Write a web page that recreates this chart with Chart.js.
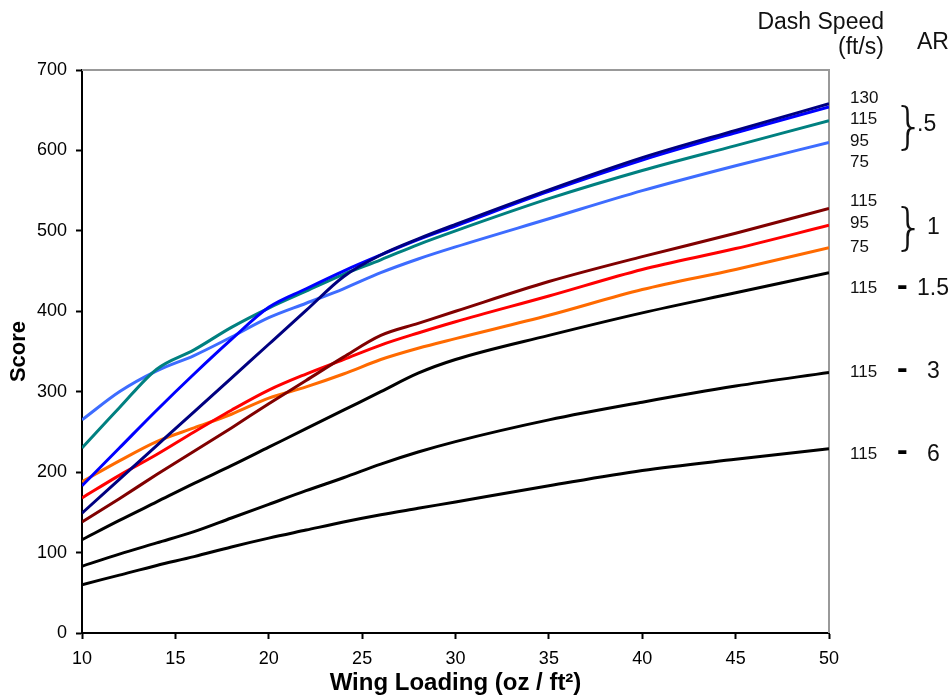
<!DOCTYPE html>
<html>
<head>
<meta charset="utf-8">
<script src="https://cdn.jsdelivr.net/npm/chart.js@4.4.1/dist/chart.umd.min.js"></script>
<style>
  html, body { margin: 0; padding: 0; background: #fff; }
  #wrap { width: 952px; height: 700px; }
</style>
</head>
<body>
<div id="wrap"><canvas id="scoreChart" width="952" height="700"></canvas></div>
<script>
// wing loading (oz/ft^2) sample points
const wingLoading = [10, 12, 14, 16, 18, 20, 22, 24, 26, 28, 30, 35, 40, 45, 50];

// AR .5
const ar05_130 = [149, 191, 233, 275, 317, 359, 401, 443, 470, 490, 508, 551, 591, 625, 658];
const ar05_115 = [183, 230, 277, 322, 365, 405, 428, 450, 470, 489, 506, 549, 588, 622, 654];
const ar05_95  = [230, 280, 328, 352, 380, 404, 425, 446, 464, 483, 500, 540, 575, 606, 637];
const ar05_75  = [265, 300, 326, 345, 368, 392, 410, 428, 448, 465, 480, 515, 550, 581, 610];
// AR 1
const ar1_115 = [138, 167, 197, 226, 255, 285, 314, 343, 370, 385, 400, 437, 468, 497, 528];
const ar1_95  = [168, 196, 222, 250, 277, 302, 322, 340, 358, 373, 387, 419, 452, 478, 507];
const ar1_75  = [188, 214, 238, 255, 272, 292, 306, 322, 340, 354, 366, 395, 427, 452, 479];
// AR 1.5, 3, 6 @ 115 ft/s
const ar15_115 = [116, 140, 163, 186, 208, 231, 254, 277, 300, 323, 340, 370, 398, 423, 448];
const ar3_115  = [83, 98, 112, 126, 143, 160, 177, 193, 210, 225, 238, 265, 287, 307, 324];
const ar6_115  = [60, 72, 84, 95, 107, 118, 128, 138, 147, 155, 163, 183, 202, 216, 229];

const xTicks = [10, 15, 20, 25, 30, 35, 40, 45, 50];
const yTicks = [0, 100, 200, 300, 400, 500, 600, 700];

function series(label, values, color) {
  return {
    label: label,
    data: wingLoading.map((x, i) => ({ x: x, y: values[i] })),
    borderColor: color,
    backgroundColor: color,
    borderWidth: 3,
    pointRadius: 0,
    fill: false,
    cubicInterpolationMode: 'monotone'
  };
}

// gray frame + labels on the right side of the plot
const sideLabels = {
  id: 'sideLabels',
  beforeDatasetsDraw(chart) {
    const { ctx, chartArea } = chart;
    ctx.save();
    ctx.strokeStyle = '#999';
    ctx.lineWidth = 2;
    ctx.beginPath();
    ctx.moveTo(chartArea.left, chartArea.top);
    ctx.lineTo(chartArea.right, chartArea.top);
    ctx.lineTo(chartArea.right, chartArea.bottom);
    ctx.stroke();
    ctx.restore();
  },
  afterDraw(chart) {
    const ctx = chart.ctx;
    ctx.save();
    ctx.fillStyle = '#111';
    ctx.textBaseline = 'alphabetic';
    ctx.font = '23px "Liberation Sans", Arial, sans-serif';
    ctx.textAlign = 'right';
    ctx.fillText('Dash Speed', 884, 29);
    ctx.fillText('(ft/s)', 884, 54);
    ctx.textAlign = 'left';
    ctx.fillText('AR', 917, 49);

    ctx.font = '17px "Liberation Sans", Arial, sans-serif';
    const nums = [['130', 103], ['115', 124], ['95', 146], ['75', 167],
                  ['115', 206], ['95', 228], ['75', 252],
                  ['115', 293], ['115', 377], ['115', 459]];
    nums.forEach(n => ctx.fillText(n[0], 850, n[1]));

    ctx.font = '300 50px "DejaVu Sans", sans-serif';
    ctx.fillText('}', 893, 143);
    ctx.fillText('}', 893, 244);

    ctx.font = '23px "Liberation Sans", Arial, sans-serif';
    ctx.fillText('.5', 917, 131);
    ctx.fillText('1', 927, 234);
    ctx.fillText('1.5', 917, 295);
    ctx.fillText('3', 927, 378);
    ctx.fillText('6', 927, 461);

    ctx.fillStyle = '#000';
    ctx.font = 'bold 32px "Liberation Sans", Arial, sans-serif';
    ctx.fillText('-', 897, 295);
    ctx.fillText('-', 897, 378);
    ctx.fillText('-', 897, 460);
    ctx.restore();
  }
};

const ctx = document.getElementById('scoreChart').getContext('2d');
const scoreChart = new Chart(ctx, {
  type: 'line',
  data: {
    datasets: [
      series('AR .5, 130 ft/s', ar05_130, '#000080'),
      series('AR .5, 115 ft/s', ar05_115, '#0000ff'),
      series('AR .5, 95 ft/s', ar05_95, '#008080'),
      series('AR .5, 75 ft/s', ar05_75, '#3d6cff'),
      series('AR 1, 115 ft/s', ar1_115, '#800000'),
      series('AR 1, 95 ft/s', ar1_95, '#ff0000'),
      series('AR 1, 75 ft/s', ar1_75, '#ff6a00'),
      series('AR 1.5, 115 ft/s', ar15_115, '#000000'),
      series('AR 3, 115 ft/s', ar3_115, '#000000'),
      series('AR 6, 115 ft/s', ar6_115, '#000000'),
    ],
  },
  options: {
    responsive: false,
    animation: false,
    layout: { padding: { top: 70, right: 123, left: 0, bottom: 0 } },
    plugins: {
      legend: { display: false },
      tooltip: { enabled: false },
    },
    scales: {
      x: {
        type: 'linear',
        min: 10,
        max: 50,
        afterBuildTicks: scale => { scale.ticks = xTicks.map(v => ({ value: v })); },
        afterFit: scale => { scale.height = 67; },
        grid: { drawOnChartArea: false, tickLength: 6, tickColor: '#000', tickWidth: 2 },
        border: { color: '#000', width: 2 },
        ticks: { color: '#000', padding: 9, font: { family: '"Liberation Sans", Arial', size: 18 } },
        title: {
          display: true,
          text: 'Wing Loading (oz / ft\u00b2)',
          color: '#000',
          padding: { top: 0, bottom: 2 },
          font: { family: '"Liberation Sans", Arial', size: 24, weight: 'bold' },
        },
      },
      y: {
        min: 0,
        max: 700,
        afterBuildTicks: scale => { scale.ticks = yTicks.map(v => ({ value: v })); },
        afterFit: scale => { scale.width = 82; },
        grid: { drawOnChartArea: false, tickLength: 6, tickColor: '#000', tickWidth: 2 },
        border: { color: '#000', width: 2 },
        ticks: { color: '#000', padding: 9, font: { family: '"Liberation Sans", Arial', size: 18 } },
        title: {
          display: true,
          text: 'Score',
          color: '#000',
          padding: { top: 6, bottom: 0 },
          font: { family: '"Liberation Sans", Arial', size: 22, weight: 'bold' },
        },
      },
    },
  },
  plugins: [sideLabels],
});
</script>
</body>
</html>
